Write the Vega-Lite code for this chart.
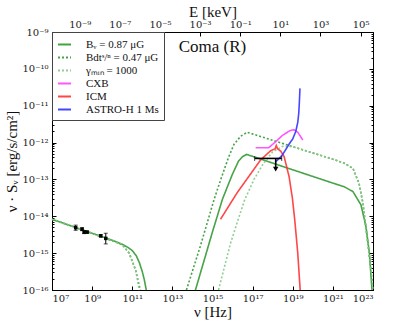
{
  "$schema": "https://vega.github.io/schema/vega-lite/v6.json",
  "autosize": {"type": "none"},
  "padding": {"left": 52, "top": 32, "right": 42, "bottom": 33},
  "width": 321,
  "height": 258,
  "datasets": {
    "curves": [
      {"series": "Bᵥ = 0.87 μG", "part": "radio", "log_nu": 7.0, "log_S": -14.08},
      {"series": "Bᵥ = 0.87 μG", "part": "radio", "log_nu": 8.0, "log_S": -14.27},
      {"series": "Bᵥ = 0.87 μG", "part": "radio", "log_nu": 9.0, "log_S": -14.46},
      {"series": "Bᵥ = 0.87 μG", "part": "radio", "log_nu": 10.0, "log_S": -14.65},
      {"series": "Bᵥ = 0.87 μG", "part": "radio", "log_nu": 10.5, "log_S": -14.76},
      {"series": "Bᵥ = 0.87 μG", "part": "radio", "log_nu": 10.8, "log_S": -14.85},
      {"series": "Bᵥ = 0.87 μG", "part": "radio", "log_nu": 11.0, "log_S": -14.93},
      {"series": "Bᵥ = 0.87 μG", "part": "radio", "log_nu": 11.2, "log_S": -15.07},
      {"series": "Bᵥ = 0.87 μG", "part": "radio", "log_nu": 11.35, "log_S": -15.25},
      {"series": "Bᵥ = 0.87 μG", "part": "radio", "log_nu": 11.5, "log_S": -15.5},
      {"series": "Bᵥ = 0.87 μG", "part": "radio", "log_nu": 11.6, "log_S": -15.72},
      {"series": "Bᵥ = 0.87 μG", "part": "radio", "log_nu": 11.7, "log_S": -16.0},
      {"series": "Bᵥ = 0.87 μG", "part": "ic", "log_nu": 14.15, "log_S": -16.0},
      {"series": "Bᵥ = 0.87 μG", "part": "ic", "log_nu": 15.0, "log_S": -14.42},
      {"series": "Bᵥ = 0.87 μG", "part": "ic", "log_nu": 15.5, "log_S": -13.53},
      {"series": "Bᵥ = 0.87 μG", "part": "ic", "log_nu": 16.0, "log_S": -12.85},
      {"series": "Bᵥ = 0.87 μG", "part": "ic", "log_nu": 16.3, "log_S": -12.5},
      {"series": "Bᵥ = 0.87 μG", "part": "ic", "log_nu": 16.5, "log_S": -12.38},
      {"series": "Bᵥ = 0.87 μG", "part": "ic", "log_nu": 16.7, "log_S": -12.32},
      {"series": "Bᵥ = 0.87 μG", "part": "ic", "log_nu": 18.4, "log_S": -12.63},
      {"series": "Bᵥ = 0.87 μG", "part": "ic", "log_nu": 21.0, "log_S": -13.1},
      {"series": "Bᵥ = 0.87 μG", "part": "ic", "log_nu": 21.57, "log_S": -13.2},
      {"series": "Bᵥ = 0.87 μG", "part": "ic", "log_nu": 22.0, "log_S": -13.33},
      {"series": "Bᵥ = 0.87 μG", "part": "ic", "log_nu": 22.4, "log_S": -13.69},
      {"series": "Bᵥ = 0.87 μG", "part": "ic", "log_nu": 22.65, "log_S": -14.28},
      {"series": "Bᵥ = 0.87 μG", "part": "ic", "log_nu": 22.82, "log_S": -15.0},
      {"series": "Bᵥ = 0.87 μG", "part": "ic", "log_nu": 22.95, "log_S": -16.0},

      {"series": "Bdtˢ/ⁿ = 0.47 μG", "part": "radio", "log_nu": 7.0, "log_S": -14.08},
      {"series": "Bdtˢ/ⁿ = 0.47 μG", "part": "radio", "log_nu": 9.0, "log_S": -14.46},
      {"series": "Bdtˢ/ⁿ = 0.47 μG", "part": "radio", "log_nu": 10.5, "log_S": -14.77},
      {"series": "Bdtˢ/ⁿ = 0.47 μG", "part": "radio", "log_nu": 10.85, "log_S": -15.0},
      {"series": "Bdtˢ/ⁿ = 0.47 μG", "part": "radio", "log_nu": 11.17, "log_S": -15.46},
      {"series": "Bdtˢ/ⁿ = 0.47 μG", "part": "radio", "log_nu": 11.4, "log_S": -16.0},
      {"series": "Bdtˢ/ⁿ = 0.47 μG", "part": "ic", "log_nu": 13.7, "log_S": -16.0},
      {"series": "Bdtˢ/ⁿ = 0.47 μG", "part": "ic", "log_nu": 14.4, "log_S": -14.8},
      {"series": "Bdtˢ/ⁿ = 0.47 μG", "part": "ic", "log_nu": 15.07, "log_S": -13.56},
      {"series": "Bdtˢ/ⁿ = 0.47 μG", "part": "ic", "log_nu": 15.4, "log_S": -13.02},
      {"series": "Bdtˢ/ⁿ = 0.47 μG", "part": "ic", "log_nu": 15.8, "log_S": -12.4},
      {"series": "Bdtˢ/ⁿ = 0.47 μG", "part": "ic", "log_nu": 16.07, "log_S": -12.05},
      {"series": "Bdtˢ/ⁿ = 0.47 μG", "part": "ic", "log_nu": 16.4, "log_S": -11.83},
      {"series": "Bdtˢ/ⁿ = 0.47 μG", "part": "ic", "log_nu": 16.73, "log_S": -11.72},
      {"series": "Bdtˢ/ⁿ = 0.47 μG", "part": "ic", "log_nu": 19.4, "log_S": -12.18},
      {"series": "Bdtˢ/ⁿ = 0.47 μG", "part": "ic", "log_nu": 21.0, "log_S": -12.45},
      {"series": "Bdtˢ/ⁿ = 0.47 μG", "part": "ic", "log_nu": 21.57, "log_S": -12.56},
      {"series": "Bdtˢ/ⁿ = 0.47 μG", "part": "ic", "log_nu": 22.0, "log_S": -12.7},
      {"series": "Bdtˢ/ⁿ = 0.47 μG", "part": "ic", "log_nu": 22.3, "log_S": -13.1},
      {"series": "Bdtˢ/ⁿ = 0.47 μG", "part": "ic", "log_nu": 22.5, "log_S": -13.65},
      {"series": "Bdtˢ/ⁿ = 0.47 μG", "part": "ic", "log_nu": 22.7, "log_S": -14.55},
      {"series": "Bdtˢ/ⁿ = 0.47 μG", "part": "ic", "log_nu": 22.9, "log_S": -15.46},
      {"series": "Bdtˢ/ⁿ = 0.47 μG", "part": "ic", "log_nu": 23.0, "log_S": -16.0},

      {"series": "γₘᵢₙ = 1000", "part": "radio", "log_nu": 7.0, "log_S": -14.08},
      {"series": "γₘᵢₙ = 1000", "part": "radio", "log_nu": 9.0, "log_S": -14.46},
      {"series": "γₘᵢₙ = 1000", "part": "radio", "log_nu": 10.5, "log_S": -14.76},
      {"series": "γₘᵢₙ = 1000", "part": "radio", "log_nu": 10.83, "log_S": -15.0},
      {"series": "γₘᵢₙ = 1000", "part": "radio", "log_nu": 11.17, "log_S": -15.46},
      {"series": "γₘᵢₙ = 1000", "part": "radio", "log_nu": 11.35, "log_S": -16.0},
      {"series": "γₘᵢₙ = 1000", "part": "ic", "log_nu": 15.3, "log_S": -16.0},
      {"series": "γₘᵢₙ = 1000", "part": "ic", "log_nu": 15.9, "log_S": -14.73},
      {"series": "γₘᵢₙ = 1000", "part": "ic", "log_nu": 16.3, "log_S": -14.05},
      {"series": "γₘᵢₙ = 1000", "part": "ic", "log_nu": 16.6, "log_S": -13.56},
      {"series": "γₘᵢₙ = 1000", "part": "ic", "log_nu": 17.07, "log_S": -13.0},
      {"series": "γₘᵢₙ = 1000", "part": "ic", "log_nu": 17.5, "log_S": -12.6},
      {"series": "γₘᵢₙ = 1000", "part": "ic", "log_nu": 18.0, "log_S": -12.25},
      {"series": "γₘᵢₙ = 1000", "part": "ic", "log_nu": 18.5, "log_S": -12.1},
      {"series": "γₘᵢₙ = 1000", "part": "ic", "log_nu": 19.0, "log_S": -12.11},
      {"series": "γₘᵢₙ = 1000", "part": "ic", "log_nu": 19.4, "log_S": -12.18},
      {"series": "γₘᵢₙ = 1000", "part": "ic", "log_nu": 21.0, "log_S": -12.45},
      {"series": "γₘᵢₙ = 1000", "part": "ic", "log_nu": 21.57, "log_S": -12.56},
      {"series": "γₘᵢₙ = 1000", "part": "ic", "log_nu": 22.0, "log_S": -12.7},
      {"series": "γₘᵢₙ = 1000", "part": "ic", "log_nu": 22.3, "log_S": -13.1},
      {"series": "γₘᵢₙ = 1000", "part": "ic", "log_nu": 22.5, "log_S": -13.65},
      {"series": "γₘᵢₙ = 1000", "part": "ic", "log_nu": 22.7, "log_S": -14.55},
      {"series": "γₘᵢₙ = 1000", "part": "ic", "log_nu": 22.9, "log_S": -15.46},
      {"series": "γₘᵢₙ = 1000", "part": "ic", "log_nu": 23.0, "log_S": -16.0},

      {"series": "CXB", "part": "x", "log_nu": 17.15, "log_S": -12.14},
      {"series": "CXB", "part": "x", "log_nu": 17.8, "log_S": -12.14},
      {"series": "CXB", "part": "x", "log_nu": 18.1, "log_S": -12.0},
      {"series": "CXB", "part": "x", "log_nu": 18.5, "log_S": -11.8},
      {"series": "CXB", "part": "x", "log_nu": 18.85, "log_S": -11.68},
      {"series": "CXB", "part": "x", "log_nu": 19.05, "log_S": -11.65},
      {"series": "CXB", "part": "x", "log_nu": 19.25, "log_S": -11.72},
      {"series": "CXB", "part": "x", "log_nu": 19.5, "log_S": -11.93},

      {"series": "ICM", "part": "x", "log_nu": 15.4, "log_S": -14.08},
      {"series": "ICM", "part": "x", "log_nu": 16.23, "log_S": -13.36},
      {"series": "ICM", "part": "x", "log_nu": 17.4, "log_S": -12.47},
      {"series": "ICM", "part": "x", "log_nu": 17.9, "log_S": -12.22},
      {"series": "ICM", "part": "x", "log_nu": 18.12, "log_S": -12.17},
      {"series": "ICM", "part": "x", "log_nu": 18.18, "log_S": -12.08},
      {"series": "ICM", "part": "x", "log_nu": 18.24, "log_S": -12.17},
      {"series": "ICM", "part": "x", "log_nu": 18.4, "log_S": -12.23},
      {"series": "ICM", "part": "x", "log_nu": 18.57, "log_S": -12.38},
      {"series": "ICM", "part": "x", "log_nu": 18.82, "log_S": -12.93},
      {"series": "ICM", "part": "x", "log_nu": 18.98, "log_S": -13.5},
      {"series": "ICM", "part": "x", "log_nu": 19.1, "log_S": -14.1},
      {"series": "ICM", "part": "x", "log_nu": 19.25, "log_S": -15.0},
      {"series": "ICM", "part": "x", "log_nu": 19.37, "log_S": -16.0},

      {"series": "ASTRO-H 1 Ms", "part": "x", "log_nu": 18.15, "log_S": -12.52},
      {"series": "ASTRO-H 1 Ms", "part": "x", "log_nu": 18.48, "log_S": -12.34},
      {"series": "ASTRO-H 1 Ms", "part": "x", "log_nu": 18.82, "log_S": -12.04},
      {"series": "ASTRO-H 1 Ms", "part": "x", "log_nu": 19.0, "log_S": -11.9},
      {"series": "ASTRO-H 1 Ms", "part": "x", "log_nu": 19.15, "log_S": -11.7},
      {"series": "ASTRO-H 1 Ms", "part": "x", "log_nu": 19.25, "log_S": -11.45},
      {"series": "ASTRO-H 1 Ms", "part": "x", "log_nu": 19.3, "log_S": -11.2},
      {"series": "ASTRO-H 1 Ms", "part": "x", "log_nu": 19.33, "log_S": -10.9},
      {"series": "ASTRO-H 1 Ms", "part": "x", "log_nu": 19.36, "log_S": -10.53}
    ],
    "radio": [
      {"log_nu": 8.18, "log_S": -14.31, "lo": -14.38, "hi": -14.24},
      {"log_nu": 8.5, "log_S": -14.35, "lo": -14.39, "hi": -14.31},
      {"log_nu": 8.6, "log_S": -14.43, "lo": -14.47, "hi": -14.39},
      {"log_nu": 8.75, "log_S": -14.43, "lo": -14.46, "hi": -14.4},
      {"log_nu": 9.43, "log_S": -14.53, "lo": -14.56, "hi": -14.5},
      {"log_nu": 9.68, "log_S": -14.6, "lo": -14.75, "hi": -14.46}
    ],
    "ul": [
      {"lo_nu": 17.1, "hi_nu": 18.45, "mid_nu": 18.15, "log_S": -12.43, "arrow_S": -12.72}
    ],
    "label": [
      {"log_nu": 15.0, "log_S": -9.41, "text": "Coma  (R)"}
    ]
  },
  "layer": [
    {
      "data": {"name": "curves"},
      "mark": {"type": "line", "strokeWidth": 1.6, "opacity": 0.9},
      "encoding": {
        "x": {
          "field": "log_nu", "type": "quantitative",
          "scale": {"domain": [7, 23], "nice": false, "zero": false},
          "axis": {
            "orient": "bottom", "title": "ν [Hz]",
            "values": [7, 9, 11, 13, 15, 17, 19, 21, 23],
            "labelExpr": "'10' + replace(replace(replace(replace(replace(replace(replace(replace(replace(replace(replace(''+round(datum.value),regexp('-','g'),'⁻'),regexp('0','g'),'⁰'),regexp('1','g'),'¹'),regexp('2','g'),'²'),regexp('3','g'),'³'),regexp('4','g'),'⁴'),regexp('5','g'),'⁵'),regexp('6','g'),'⁶'),regexp('7','g'),'⁷'),regexp('8','g'),'⁸'),regexp('9','g'),'⁹')",
            "tickSize": -4, "labelPadding": 7, "titlePadding": 1
          }
        },
        "y": {
          "field": "log_S", "type": "quantitative",
          "scale": {"domain": [-16, -9], "nice": false, "zero": false},
          "axis": {
            "orient": "left", "title": "ν · Sᵥ [erg/s/cm²]",
            "values": [-16, -15.699, -15.523, -15.398, -15.301, -15.222, -15.155, -15.097, -15.046,
                       -15, -14.699, -14.523, -14.398, -14.301, -14.222, -14.155, -14.097, -14.046,
                       -14, -13.699, -13.523, -13.398, -13.301, -13.222, -13.155, -13.097, -13.046,
                       -13, -12.699, -12.523, -12.398, -12.301, -12.222, -12.155, -12.097, -12.046,
                       -12, -11.699, -11.523, -11.398, -11.301, -11.222, -11.155, -11.097, -11.046,
                       -11, -10.699, -10.523, -10.398, -10.301, -10.222, -10.155, -10.097, -10.046,
                       -10, -9.699, -9.523, -9.398, -9.301, -9.222, -9.155, -9.097, -9.046, -9],
            "labelExpr": "abs(datum.value-round(datum.value))<0.001 ? '10' + replace(replace(replace(replace(replace(replace(replace(replace(replace(replace(replace(''+round(datum.value),regexp('-','g'),'⁻'),regexp('0','g'),'⁰'),regexp('1','g'),'¹'),regexp('2','g'),'²'),regexp('3','g'),'³'),regexp('4','g'),'⁴'),regexp('5','g'),'⁵'),regexp('6','g'),'⁶'),regexp('7','g'),'⁷'),regexp('8','g'),'⁸'),regexp('9','g'),'⁹') : ''",
            "tickSize": {"condition": {"test": "abs(datum.value-round(datum.value))<0.001", "value": -4}, "value": -2},
            "labelPadding": 8, "titlePadding": 2
          }
        },
        "color": {
          "field": "series", "type": "nominal", "title": null,
          "scale": {
            "domain": ["Bᵥ = 0.87 μG", "Bdtˢ/ⁿ = 0.47 μG", "γₘᵢₙ = 1000", "CXB", "ICM", "ASTRO-H 1 Ms"],
            "range": ["#339933", "#339933", "#88c888", "#ff44ff", "#ff3333", "#3333ff"]
          }
        },
        "strokeDash": {
          "field": "series", "type": "nominal", "title": null,
          "scale": {
            "domain": ["Bᵥ = 0.87 μG", "Bdtˢ/ⁿ = 0.47 μG", "γₘᵢₙ = 1000", "CXB", "ICM", "ASTRO-H 1 Ms"],
            "range": [[1, 0], [2, 2], [2, 2], [1, 0], [1, 0], [1, 0]]
          }
        },
        "detail": {"field": "part", "type": "nominal"}
      }
    },
    {
      "data": {"name": "label"},
      "mark": {"type": "text", "fontSize": 17, "font": "Liberation Serif", "color": "#111"},
      "encoding": {
        "x": {
          "field": "log_nu", "type": "quantitative",
          "axis": {
            "orient": "top", "title": "E [keV]",
            "values": [8.383, 10.383, 12.383, 14.383, 16.383, 18.383, 20.383, 22.383],
            "labelExpr": "'10' + replace(replace(replace(replace(replace(replace(replace(replace(replace(replace(replace(''+round(datum.value-17.383),regexp('-','g'),'⁻'),regexp('0','g'),'⁰'),regexp('1','g'),'¹'),regexp('2','g'),'²'),regexp('3','g'),'³'),regexp('4','g'),'⁴'),regexp('5','g'),'⁵'),regexp('6','g'),'⁶'),regexp('7','g'),'⁷'),regexp('8','g'),'⁸'),regexp('9','g'),'⁹')",
            "tickSize": -4, "labelPadding": 7, "titlePadding": 0
          }
        },
        "y": {
          "field": "log_S", "type": "quantitative",
          "axis": {
            "orient": "right", "title": null, "labels": false,
            "values": [-16, -15.699, -15.523, -15.398, -15.301, -15.222, -15.155, -15.097, -15.046,
                       -15, -14.699, -14.523, -14.398, -14.301, -14.222, -14.155, -14.097, -14.046,
                       -14, -13.699, -13.523, -13.398, -13.301, -13.222, -13.155, -13.097, -13.046,
                       -13, -12.699, -12.523, -12.398, -12.301, -12.222, -12.155, -12.097, -12.046,
                       -12, -11.699, -11.523, -11.398, -11.301, -11.222, -11.155, -11.097, -11.046,
                       -11, -10.699, -10.523, -10.398, -10.301, -10.222, -10.155, -10.097, -10.046,
                       -10, -9.699, -9.523, -9.398, -9.301, -9.222, -9.155, -9.097, -9.046, -9],
            "tickSize": {"condition": {"test": "abs(datum.value-round(datum.value))<0.001", "value": -4}, "value": -2}
          }
        },
        "text": {"field": "text"}
      }
    },
    {
      "data": {"name": "radio"},
      "mark": {"type": "rule", "color": "black", "strokeWidth": 1},
      "encoding": {
        "x": {"field": "log_nu", "type": "quantitative", "axis": null},
        "y": {"field": "lo", "type": "quantitative", "axis": null},
        "y2": {"field": "hi"}
      }
    },
    {
      "data": {"name": "radio"},
      "mark": {"type": "tick", "orient": "horizontal", "color": "black", "size": 4, "thickness": 1},
      "encoding": {
        "x": {"field": "log_nu", "type": "quantitative", "axis": null},
        "y": {"field": "lo", "type": "quantitative", "axis": null}
      }
    },
    {
      "data": {"name": "radio"},
      "mark": {"type": "tick", "orient": "horizontal", "color": "black", "size": 4, "thickness": 1},
      "encoding": {
        "x": {"field": "log_nu", "type": "quantitative", "axis": null},
        "y": {"field": "hi", "type": "quantitative", "axis": null}
      }
    },
    {
      "data": {"name": "radio"},
      "mark": {"type": "point", "shape": "square", "filled": true, "color": "black", "size": 12, "opacity": 1},
      "encoding": {
        "x": {"field": "log_nu", "type": "quantitative", "axis": null},
        "y": {"field": "log_S", "type": "quantitative", "axis": null}
      }
    },
    {
      "data": {"name": "ul"},
      "mark": {"type": "rule", "color": "black", "strokeWidth": 1.6},
      "encoding": {
        "x": {"field": "lo_nu", "type": "quantitative", "axis": null},
        "x2": {"field": "hi_nu"},
        "y": {"field": "log_S", "type": "quantitative", "axis": null}
      }
    },
    {
      "data": {"name": "ul"},
      "mark": {"type": "rule", "color": "black", "strokeWidth": 1.6},
      "encoding": {
        "x": {"field": "mid_nu", "type": "quantitative", "axis": null},
        "y": {"field": "log_S", "type": "quantitative", "axis": null},
        "y2": {"field": "arrow_S"}
      }
    },
    {
      "data": {"name": "ul"},
      "mark": {"type": "tick", "orient": "vertical", "color": "black", "size": 5, "thickness": 1},
      "encoding": {
        "x": {"field": "lo_nu", "type": "quantitative", "axis": null},
        "y": {"field": "log_S", "type": "quantitative", "axis": null}
      }
    },
    {
      "data": {"name": "ul"},
      "mark": {"type": "tick", "orient": "vertical", "color": "black", "size": 5, "thickness": 1},
      "encoding": {
        "x": {"field": "hi_nu", "type": "quantitative", "axis": null},
        "y": {"field": "log_S", "type": "quantitative", "axis": null}
      }
    },
    {
      "data": {"name": "ul"},
      "mark": {"type": "point", "shape": "triangle-down", "filled": true, "color": "black", "size": 30, "opacity": 1},
      "encoding": {
        "x": {"field": "mid_nu", "type": "quantitative", "axis": null},
        "y": {"field": "arrow_S", "type": "quantitative", "axis": null}
      }
    }
  ],
  "resolve": {"axis": {"x": "independent", "y": "independent"}},
  "config": {
    "font": "Liberation Serif",
    "view": {"stroke": "black", "strokeWidth": 1},
    "axis": {
      "grid": false,
      "domainColor": "black",
      "tickColor": "black",
      "labelColor": "#222",
      "titleColor": "#111",
      "labelFont": "DejaVu Serif",
      "titleFont": "Liberation Serif",
      "labelFontSize": 10,
      "titleFontSize": 15,
      "titleFontWeight": "normal"
    },
    "legend": {
      "orient": "top-left",
      "offset": 0,
      "strokeColor": "#444",
      "fillColor": "white",
      "padding": 5,
      "labelFont": "Liberation Serif",
      "labelFontSize": 11,
      "labelColor": "#111",
      "symbolType": "stroke",
      "symbolSize": 169,
      "symbolStrokeWidth": 1.8,
      "rowPadding": 0,
      "labelOffset": 14,
      "cornerRadius": 0
    }
  }
}
